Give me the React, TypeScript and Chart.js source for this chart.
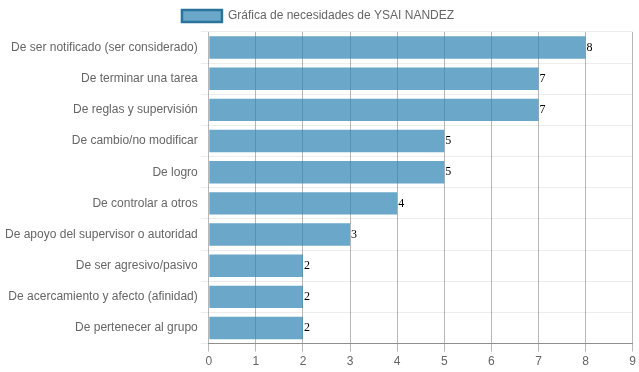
import React, { useEffect, useRef } from "react";
import { Chart, registerables } from "chart.js";

Chart.register(...registerables);

const categories = [
  "De ser notificado (ser considerado)",
  "De terminar una tarea",
  "De reglas y supervisión",
  "De cambio/no modificar",
  "De logro",
  "De controlar a otros",
  "De apoyo del supervisor o autoridad",
  "De ser agresivo/pasivo",
  "De acercamiento y afecto (afinidad)",
  "De pertenecer al grupo",
];
const values = [8, 7, 7, 5, 5, 4, 3, 2, 2, 2];
const seriesLabel = "Gráfica de necesidades de YSAI NANDEZ";
const xTicks = [0, 1, 2, 3, 4, 5, 6, 7, 8, 9];

const valueLabels = {
  id: "valueLabels",
  afterDatasetsDraw(chart: any) {
    const ctx = chart.ctx;
    const meta = chart.getDatasetMeta(0);
    ctx.save();
    ctx.font = "12px 'Liberation Serif', 'Times New Roman', serif";
    ctx.fillStyle = "#000";
    ctx.textAlign = "left";
    ctx.textBaseline = "middle";
    meta.data.forEach((bar: any, i: number) => {
      ctx.fillText(String(values[i]), bar.x + 1, bar.y);
    });
    ctx.restore();
  },
};

export default function App() {
  const ref = useRef<HTMLCanvasElement>(null);
  useEffect(() => {
    if (!ref.current) return;
    Chart.defaults.font.family = "'Liberation Sans', Arial, Helvetica, sans-serif";
    Chart.defaults.font.size = 12;
    Chart.defaults.color = "#666";
    const chart = new Chart(ref.current, {
      type: "bar",
      data: {
        labels: categories,
        datasets: [
          {
            label: seriesLabel,
            data: values,
            backgroundColor: "rgba(44,130,178,0.7)",
            borderColor: "rgb(44,115,155)",
            borderWidth: 0,
          },
        ],
      },
      options: {
        indexAxis: "y",
        animation: false,
        responsive: true,
        maintainAspectRatio: false,
        layout: { padding: { right: 5, left: 2 } },
        plugins: {
          tooltip: { enabled: false },
          legend: {
            labels: {
              boxWidth: 40,
              generateLabels(chart: any) {
                const items = Chart.defaults.plugins.legend.labels.generateLabels(chart);
                return items.map((it: any) => ({ ...it, lineWidth: 2.5, strokeStyle: "rgb(44,115,155)" }));
              },
            },
          },
        },
        scales: {
          x: {
            min: 0,
            max: 9,
            afterBuildTicks(axis: any) {
              axis.ticks = xTicks.map((v) => ({ value: v }));
            },
            grid: { color: "rgba(0,0,0,0.28)" },
            border: { color: "rgba(0,0,0,0.4)" },
            ticks: { color: "#666" },
          },
          y: {
            grid: { color: "rgba(0,0,0,0.07)", offset: true },
            border: { display: false },
            ticks: { color: "#666" },
          },
        },
      },
      plugins: [valueLabels],
    });
    return () => chart.destroy();
  }, []);
  return (
    <div style={{ position: "absolute", left: 0, top: 0, width: "639px", height: "372px" }}>
      <canvas ref={ref} />
    </div>
  );
}
